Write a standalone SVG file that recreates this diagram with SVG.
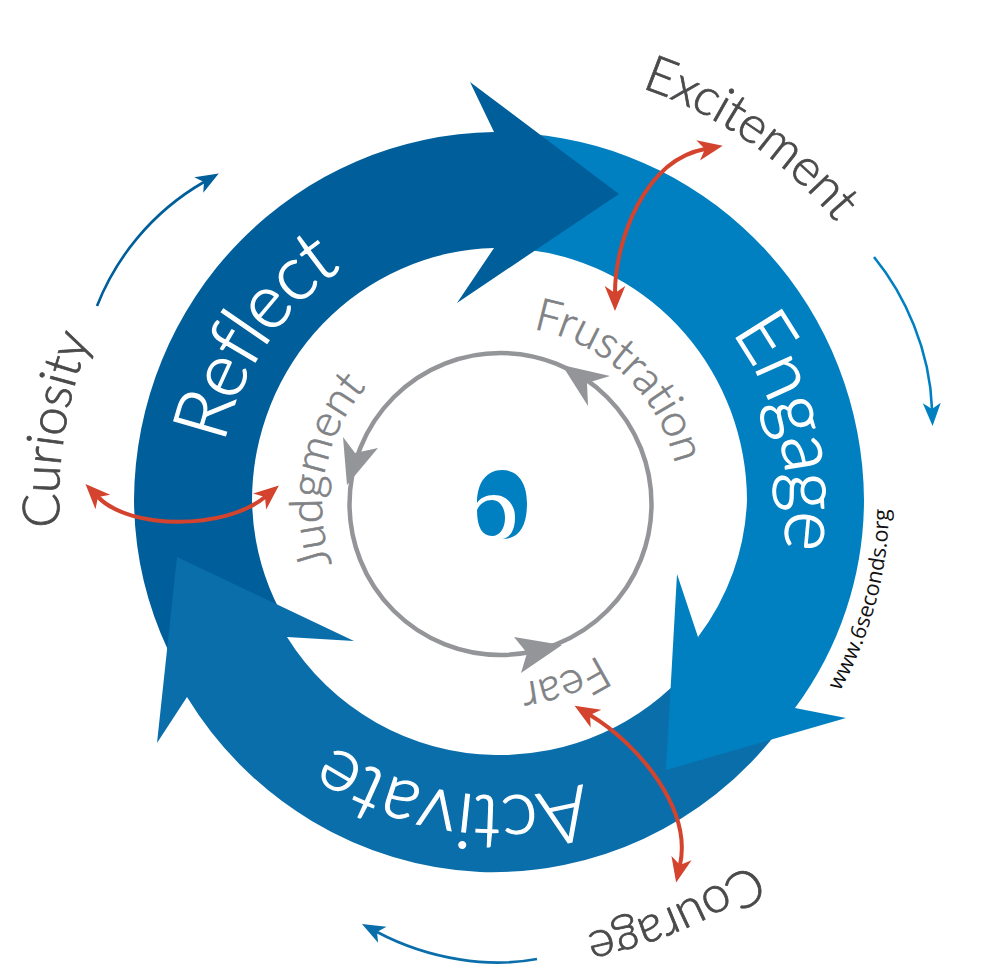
<svg xmlns="http://www.w3.org/2000/svg" xmlns:xlink="http://www.w3.org/1999/xlink" width="1000" height="980" viewBox="0 0 1000 980">
<style>
text{font-family:"Lato","Open Sans",sans-serif}
.band{font-size:76px;fill:#fff;stroke:#fff;stroke-width:1.2;font-weight:300}
.outer{font-size:51px;fill:#4a4a4c;stroke:#4a4a4c;stroke-width:.8;font-weight:300}
.inner{font-size:45px;fill:#808285;stroke:#808285;stroke-width:.7;font-weight:300}
.url{font-family:"Open Sans",sans-serif;font-size:21.6px;fill:#111}
.red{fill:none;stroke:#d3432d;stroke-width:4}
.thin{fill:none;stroke-width:2.6}
</style>
<defs>
<marker id="mr" markerUnits="userSpaceOnUse" markerWidth="30" markerHeight="24" refX="7" refY="12" orient="auto-start-reverse"><path d="M0 1.7L25 12L0 22.3L7 12Z" fill="#d3432d"/></marker>
<marker id="mb1" markerUnits="userSpaceOnUse" markerWidth="26" markerHeight="20" refX="6" refY="10" orient="auto"><path d="M0 1L23 10L0 19L6 10Z" fill="#005f9b"/></marker>
<marker id="mb2" markerUnits="userSpaceOnUse" markerWidth="26" markerHeight="20" refX="6" refY="10" orient="auto"><path d="M0 1L23 10L0 19L6 10Z" fill="#0080c0"/></marker>
<marker id="mb3" markerUnits="userSpaceOnUse" markerWidth="26" markerHeight="20" refX="6" refY="10" orient="auto"><path d="M0 1L23 10L0 19L6 10Z" fill="#0a6eab"/></marker>
<path id="c281" d="M218 502A281 281 0 1 1 780 502A281 281 0 1 1 218 502"/>
<path id="c288" d="M211 502A288 288 0 1 1 787 502A288 288 0 1 1 211 502"/>
<path id="c294" d="M205 502A294 294 0 1 1 793 502A294 294 0 1 1 205 502"/>
<path id="c438" d="M61 502A438 438 0 1 1 937 502A438 438 0 1 1 61 502"/>
<path id="c440" d="M59 502A440 440 0 1 1 939 502A440 440 0 1 1 59 502"/>
<path id="i179" d="M322 505A179 179 0 1 1 680 505A179 179 0 1 1 322 505"/>
<path id="u390" d="M889 502A390 390 0 1 0 109 502A390 390 0 1 0 889 502"/>
</defs>
<g id="engage"><path d="M530 134A365 370 0 0 1 864 500A350 350 0 0 1 795 708L750 700L698 637A240 240 0 0 0 747 500A248 253 0 0 0 530 250Z" fill="#0080c0"/></g>
<g id="reflect"><path d="M470 82L619 194L457 303L494 248A248 253 0 0 0 252 500A250 250 0 0 0 285 620L168 650A360 360 0 0 1 134 500A365 370 0 0 1 494 132Z" fill="#005f9b"/>
<text class="band" transform="rotate(12 499 502)" letter-spacing="-2"><textPath href="#c281">Reflect</textPath></text></g>
<g id="activate"><path d="M177 557L157 743L187 697A365 370 0 0 0 480 872A360 360 0 0 0 775 735L690 668A250 250 0 0 1 495 755A250 250 0 0 1 287 637L354 641Z" fill="#0a6eab"/>
<text class="band" transform="rotate(253.4 499 502)" letter-spacing="-0.8"><textPath href="#c294">Activate</textPath></text></g>
<g id="engage-head"><path d="M698 637L677 574L666 770L846 718L795 708Z" fill="#0080c0"/>
<text class="band" transform="rotate(143.8 499 502)" letter-spacing="-1.8"><textPath href="#c288">Engage</textPath></text></g>
<g id="center-logo" fill="#0080c0"><path d="M477 503C477 482 487 470 502 470C518 470 527 483 527 503C527 525 520 539 502 539C513 537 515 526 515 517C515 505 507 495 494 495C486 495 480 498 477 503Z"/><path d="M477 510C480 503 486 500 492 500C500 500 505 508 505 518C505 528 500 536 492 536C482 536 477 527 477 510Z"/></g>
<g id="connectors">
<path class="red" d="M615 293C615 240 645 160 705 149" marker-start="url(#mr)" marker-end="url(#mr)"/>
<path class="red" d="M98 497C130 530 225 530 265 497" marker-start="url(#mr)" marker-end="url(#mr)"/>
<path class="red" d="M590 715C640 745 692 810 680 865" marker-start="url(#mr)" marker-end="url(#mr)"/>
<path class="thin" d="M97 306C115 260 150 213 204 182" stroke="#005f9b" marker-end="url(#mb1)"/>
<path class="thin" d="M874 257C905 295 930 350 932 409" stroke="#0080c0" marker-end="url(#mb2)"/>
<path class="thin" d="M537 959C490 968 430 960 377 932" stroke="#0a6eab" marker-end="url(#mb3)"/>
<circle cx="500.5" cy="504" r="151" fill="none" stroke="#939598" stroke-width="4.5"/>
<path d="M562 365L610 376L587 383L588 406Z" fill="#939598"/>
<path d="M347 485L343 437L355 453L378 448Z" fill="#939598"/>
<path d="M562 645L514 637L527 653L521 673Z" fill="#939598"/>
</g>
<g id="excitement"><text class="outer" transform="rotate(109 499 502)" letter-spacing="-0.6"><textPath href="#c438">Excitement</textPath></text></g>
<g id="courage"><text class="outer" transform="rotate(235.2 499 502)" letter-spacing="-0.8"><textPath href="#c440">Courage</textPath></text></g>
<g id="curiosity"><text class="outer" transform="rotate(-3.3 499 502)" letter-spacing="-0.4"><textPath href="#c440">Curiosity</textPath></text></g>
<g id="frustration"><text class="inner" transform="rotate(100.3 501 505)" letter-spacing="-0.3"><textPath href="#i179">Frustration</textPath></text></g>
<g id="judgment"><text class="inner" transform="rotate(-19.3 501 505)" letter-spacing="-0.2"><textPath href="#i179">Judgment</textPath></text></g>
<g id="fear"><text class="inner" transform="rotate(237 501 505)" letter-spacing="-0.4"><textPath href="#i179">Fear</textPath></text></g>
<g id="url"><text class="url" transform="rotate(29 499 502)"><textPath href="#u390">www.6seconds.org</textPath></text></g>
</svg>
